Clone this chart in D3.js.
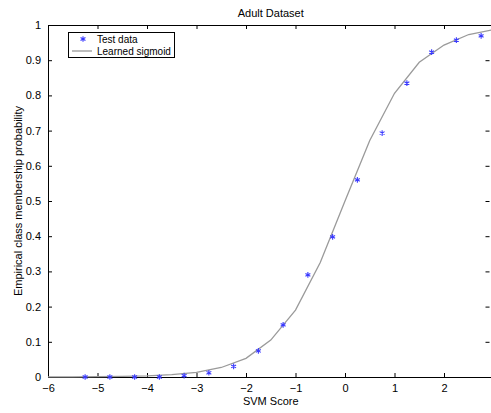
<!DOCTYPE html>
<html lang="en">
  <head>
    <meta charset="utf-8">
    <title>Adult Dataset</title>
    <style>
      body { margin: 0; background: #fff; }
      svg { display: block; font-family: "Liberation Sans", Arial, sans-serif; }
    </style>
  </head>
  <body>
    <script src="https://cdn.jsdelivr.net/npm/d3@7"></script>
    <script>
      // test data (binned SVM scores)
      var testX = [-5.25, -4.75, -4.25, -3.75, -3.25, -2.75, -2.25, -1.75, -1.25, -0.75, -0.25, 0.25, 0.75, 1.25, 1.75, 2.25, 2.75];
      var testY = [0, 0, 0, 0, 0.004, 0.012, 0.030, 0.074, 0.148, 0.290, 0.398, 0.560, 0.693, 0.835, 0.923, 0.957, 0.969];

      // learned sigmoid
      var sigX = [-6, -5.5, -5, -4.5, -4, -3.5, -3, -2.5, -2, -1.5, -1, -0.5, 0, 0.5, 1, 1.5, 2, 2.5, 3];
      var sigY = [0.0002, 0.0004, 0.0008, 0.0016, 0.0033, 0.0066, 0.0134, 0.027, 0.053, 0.105, 0.19, 0.325, 0.50, 0.672, 0.806, 0.894, 0.943, 0.973, 0.987];

      // the plot box is cropped at the right edge, so 3 is not shown
      var xTicks = [-6, -5, -4, -3, -2, -1, 0, 1, 2];
      var yTicks = [0, 0.1, 0.2, 0.3, 0.4, 0.5, 0.6, 0.7, 0.8, 0.9, 1];

      var width = 491, height = 413;
      var mLeft = 48, mRight = 493.5, mTop = 25, mBottom = 377;

      var x = d3.scaleLinear().domain([-6, 3]).range([mLeft, mRight]);
      var y = d3.scaleLinear().domain([0, 1]).range([mBottom, mTop]);

      var svg = d3.select("body").append("svg")
          .attr("width", width)
          .attr("height", height);

      var fmtX = function(d) { return d < 0 ? "\u2212" + Math.abs(d) : String(d); };
      var fmtY = function(d) { return String(+d.toFixed(1)); };

      // bottom axis
      svg.append("g")
          .attr("transform", "translate(0," + mBottom + ")")
          .call(d3.axisBottom(x).tickValues(xTicks).tickFormat(fmtX).tickSizeInner(-4).tickSizeOuter(0).tickPadding(7))
          .call(g => g.select(".domain").attr("stroke", "#000"))
          .call(g => g.selectAll(".tick text").attr("font-size", 11).attr("fill", "#000"));

      // top axis (ticks only)
      svg.append("g")
          .attr("transform", "translate(0," + mTop + ")")
          .call(d3.axisTop(x).tickValues(xTicks).tickFormat("").tickSizeInner(-4).tickSizeOuter(0))
          .call(g => g.select(".domain").attr("stroke", "#000"));

      // left axis
      svg.append("g")
          .attr("transform", "translate(" + mLeft + ",0)")
          .call(d3.axisLeft(y).tickValues(yTicks).tickFormat(fmtY).tickSizeInner(-4).tickSizeOuter(0).tickPadding(7))
          .call(g => g.select(".domain").attr("stroke", "#000"))
          .call(g => g.selectAll(".tick text").attr("font-size", 11).attr("fill", "#000"));

      // right axis (ticks only)
      svg.append("g")
          .attr("transform", "translate(" + (width - 1.5) + ",0)")
          .call(d3.axisRight(y).tickValues(yTicks).tickFormat("").tickSizeInner(-4).tickSizeOuter(0))
          .call(g => g.select(".domain").attr("stroke", "none"));

      // sigmoid line
      var line = d3.line()
          .x(function(d, i) { return x(sigX[i]); })
          .y(function(d) { return y(d); });

      svg.append("path")
          .datum(sigY)
          .attr("fill", "none")
          .attr("stroke", "#9a9a9a")
          .attr("stroke-width", 1.3)
          .attr("d", line);

      // test data markers
      var star = d3.symbol().type(d3.symbolAsterisk).size(22);
      svg.append("g")
          .selectAll("path")
          .data(testY)
          .join("path")
          .attr("transform", function(d, i) { return "translate(" + x(testX[i]) + "," + y(d) + ")"; })
          .attr("d", star)
          .attr("fill", "none")
          .attr("stroke", "#3a3aff")
          .attr("stroke-width", 1.1);

      // titles
      svg.append("text")
          .attr("x", (mLeft + mRight) / 2).attr("y", 17)
          .attr("text-anchor", "middle").attr("font-size", 11)
          .text("Adult Dataset");

      svg.append("text")
          .attr("x", (mLeft + mRight) / 2).attr("y", 405)
          .attr("text-anchor", "middle").attr("font-size", 11)
          .text("SVM Score");

      svg.append("text")
          .attr("transform", "translate(22," + (mTop + mBottom) / 2 + ") rotate(-90)")
          .attr("text-anchor", "middle").attr("font-size", 11)
          .text("Empirical class membership probability");

      // legend
      var lg = svg.append("g");
      lg.append("rect")
          .attr("x", 68.5).attr("y", 32.5).attr("width", 106).attr("height", 25)
          .attr("fill", "#fff").attr("stroke", "#000").attr("stroke-width", 1);
      lg.append("path")
          .attr("transform", "translate(83,39)")
          .attr("d", star)
          .attr("fill", "none").attr("stroke", "#3a3aff").attr("stroke-width", 1.1);
      lg.append("text")
          .attr("x", 97).attr("y", 43).attr("font-size", 10)
          .text("Test data");
      lg.append("line")
          .attr("x1", 72).attr("x2", 92).attr("y1", 51).attr("y2", 51)
          .attr("stroke", "#9a9a9a").attr("stroke-width", 1.3);
      lg.append("text")
          .attr("x", 97).attr("y", 55).attr("font-size", 10)
          .text("Learned sigmoid");
    </script>
  </body>
</html>
